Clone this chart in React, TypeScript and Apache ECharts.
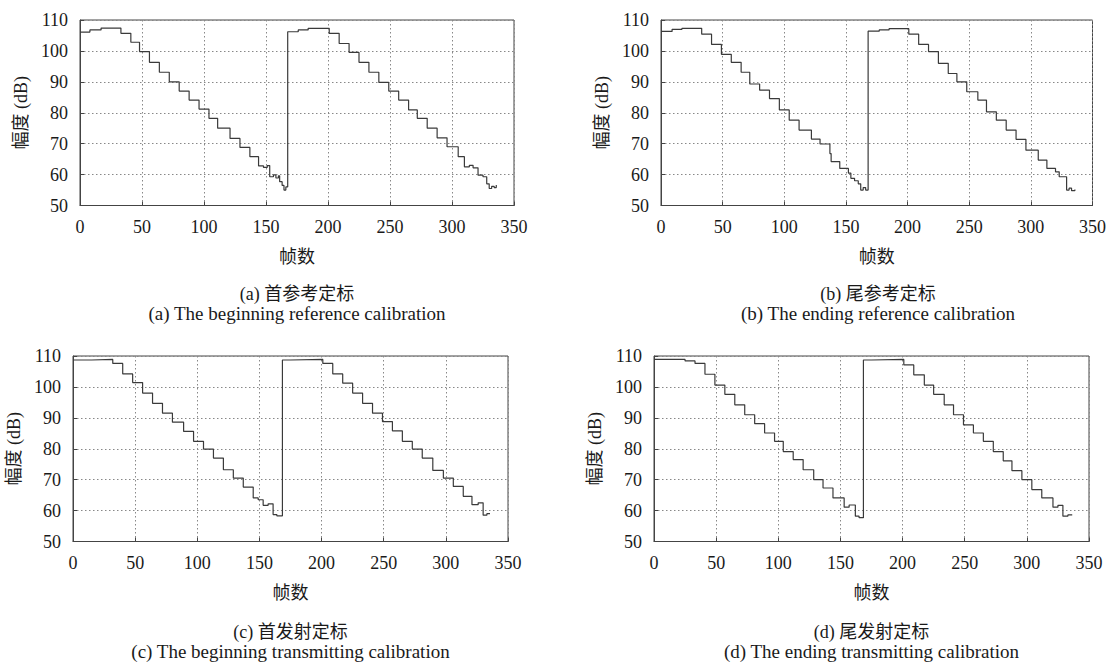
import React, { useEffect, useRef } from "react";
import * as echarts from "echarts";

// ---- Data ----
// Panel (a) 首参考定标
const framesA = [0, 8, 17, 33, 41, 48, 56, 64, 72, 80, 88, 96, 104, 111, 121, 129, 137, 144, 148, 151, 153, 156, 158, 160, 161, 163, 164.5, 166, 167.5, 176, 184, 201, 209, 217, 225, 233, 241, 249, 257, 265, 272, 280, 288, 296, 305, 310, 314, 317, 321, 325, 328, 330, 332, 334, 335.7];
const dbA = [106.1, 106.8, 107.4, 105.7, 102.8, 99.8, 96.3, 93.1, 90.0, 87.0, 84.1, 81.2, 78.2, 75.0, 71.7, 68.8, 65.8, 62.8, 62.3, 62.9, 59.3, 59.9, 58.9, 59.6, 57.7, 56.5, 55.0, 56.0, 106.2, 106.8, 107.3, 105.7, 102.4, 99.5, 96.3, 93.1, 89.8, 87.0, 84.1, 80.9, 78.2, 75.0, 71.9, 69.0, 65.8, 62.5, 63.0, 62.2, 59.8, 59.3, 57.0, 55.5, 56.2, 55.8, 56.6];

// Panel (b) 尾参考定标
const framesB = [0, 9, 17, 33, 41, 49, 57, 65, 72, 80, 88, 96, 104, 112, 122, 129, 137, 138, 145, 152, 154, 157, 160, 162, 164, 166, 168, 177, 185, 201, 209, 217, 225, 233, 240, 248, 257, 264, 272, 280, 288, 296, 306, 313, 320, 323, 329, 331, 333, 335.7];
const dbB = [106.3, 107.0, 107.3, 105.4, 102.1, 98.9, 96.3, 93.1, 89.3, 87.3, 84.6, 80.9, 77.6, 74.4, 71.5, 69.9, 66.8, 64.2, 62.0, 60.5, 58.8, 58.0, 57.0, 55.0, 55.8, 55.0, 106.4, 106.8, 107.2, 105.4, 102.1, 99.8, 96.0, 92.7, 90.0, 86.8, 84.1, 80.3, 77.6, 74.4, 71.4, 67.9, 64.7, 62.0, 60.9, 59.3, 55.0, 55.6, 54.8, 55.2];

// Panel (c) 首发射定标
const framesC = [0, 15, 32, 40, 48, 56, 64, 72, 80, 89, 97, 105, 113, 121, 129, 137, 145, 149, 153, 157, 161, 164, 168.5, 175, 201, 209, 217, 225, 233, 241, 249, 257, 265, 273, 281, 289.5, 298, 306, 314, 321, 326, 330, 333, 335.5];
const dbC = [108.7, 108.9, 107.6, 104.2, 101.4, 98.0, 94.7, 91.5, 88.6, 85.6, 82.4, 79.9, 77.0, 73.2, 70.5, 67.6, 64.1, 63.5, 61.7, 62.2, 58.7, 58.3, 108.7, 108.9, 107.6, 104.2, 101.2, 98.0, 94.7, 91.5, 88.8, 85.8, 82.4, 79.9, 77.0, 73.0, 70.5, 67.8, 64.6, 61.9, 62.5, 58.5, 59.0, 58.8];

// Panel (d) 尾发射定标
const framesD = [0, 25, 33, 41, 49, 57, 65, 73, 81, 89, 97, 104, 112, 120, 128.5, 136, 144, 153, 157, 162, 165, 168.5, 175, 201, 209, 217.5, 225, 233.5, 241, 249, 257, 265, 273, 281, 288, 296, 304, 312, 321, 325, 329, 333, 336.5];
const dbD = [108.9, 108.4, 107.6, 104.1, 100.6, 97.6, 94.2, 91.0, 88.1, 85.1, 82.4, 79.1, 76.5, 73.2, 70.0, 67.3, 64.1, 61.1, 61.8, 58.2, 57.7, 108.7, 108.9, 107.1, 103.9, 100.6, 97.6, 94.2, 91.0, 87.7, 85.1, 82.4, 79.1, 76.1, 72.9, 70.0, 66.8, 64.1, 61.1, 61.7, 58.2, 58.6, 58.4];

const xTicks = [0, 50, 100, 150, 200, 250, 300, 350];
const yTicks = [50, 60, 70, 80, 90, 100, 110];

const captionsZh = ["(a) 首参考定标", "(b) 尾参考定标", "(c) 首发射定标", "(d) 尾发射定标"];
const captionsEn = [
  "(a) The beginning reference calibration",
  "(b) The ending reference calibration",
  "(c) The beginning transmitting calibration",
  "(d) The ending transmitting calibration",
];
const xName = "帧数";
const yName = "幅度 (dB)";

const FONT = "'Liberation Serif', 'DejaVu Serif', 'Noto Sans CJK SC', serif";
const LINE = "#3a3a3a";

const grids = [
  { left: 80, top: 20, width: 434, height: 185.5 },
  { left: 661, top: 20, width: 434, height: 185.5 },
  { left: 73, top: 356, width: 435, height: 185.5 },
  { left: 654, top: 356, width: 435, height: 185.5 },
];
const captionY = [
  [294, 313],
  [294, 313],
  [632, 651],
];

export default function App() {
  const ref = useRef<HTMLDivElement>(null);
  useEffect(() => {
    if (!ref.current) return;
    const chart = echarts.init(ref.current, undefined, { renderer: "svg" });
    const allData = [
      [framesA, dbA],
      [framesB, dbB],
      [framesC, dbC],
      [framesD, dbD],
    ];
    const gridOpts = grids.map((g) => ({
      ...g,
      show: true,
      borderColor: "#444",
      borderWidth: 1,
      containLabel: false,
    }));
    const xAxes = grids.map((_, i) => ({
      type: "value",
      gridIndex: i,
      min: xTicks[0],
      max: xTicks[xTicks.length - 1],
      interval: 50,
      name: xName,
      nameLocation: "middle",
      nameGap: 42,
      nameTextStyle: { fontFamily: FONT, fontSize: 18, color: "#1a1a1a" },
      axisLine: { show: true, lineStyle: { color: "#444", width: 1 } },
      axisTick: { show: true, inside: true, length: 4, lineStyle: { color: "#444" } },
      axisLabel: { fontFamily: FONT, fontSize: 18, color: "#1a1a1a", margin: 12 },
      splitLine: { show: true, lineStyle: { color: "#888", type: [1.5, 2.5], width: 1 } },
    }));
    const yAxes = grids.map((_, i) => ({
      type: "value",
      gridIndex: i,
      min: yTicks[0],
      max: yTicks[yTicks.length - 1],
      interval: 10,
      name: yName,
      nameLocation: "middle",
      nameGap: 50,
      nameTextStyle: { fontFamily: FONT, fontSize: 18, color: "#1a1a1a" },
      axisLine: { show: true, lineStyle: { color: "#444", width: 1 } },
      axisTick: { show: true, inside: true, length: 4, lineStyle: { color: "#444" } },
      axisLabel: { fontFamily: FONT, fontSize: 18, color: "#1a1a1a", margin: 12 },
      splitLine: { show: true, lineStyle: { color: "#888", type: [1.5, 2.5], width: 1 } },
    }));
    const series = allData.map(([fr, db], i) => ({
      type: "line",
      xAxisIndex: i,
      yAxisIndex: i,
      step: "end",
      showSymbol: false,
      symbol: "none",
      lineStyle: { color: LINE, width: 1.2 },
      data: fr.map((f, k) => [f, db[k]]),
    }));
    const graphics: any[] = [];
    grids.forEach((g, i) => {
      const cx = g.left + g.width / 2;
      const row = i < 2 ? 0 : 2;
      graphics.push({
        type: "text",
        x: cx,
        y: captionY[row][0],
        style: {
          text: captionsZh[i],
          font: `18px ${FONT}`,
          fill: "#1a1a1a",
          align: "center",
          verticalAlign: "middle",
        },
      });
      graphics.push({
        type: "text",
        x: cx,
        y: captionY[row][1],
        style: {
          text: captionsEn[i],
          font: `19px ${FONT}`,
          fill: "#1a1a1a",
          align: "center",
          verticalAlign: "middle",
        },
      });
    });
    chart.setOption({
      animation: false,
      backgroundColor: "#fff",
      grid: gridOpts,
      xAxis: xAxes,
      yAxis: yAxes,
      series,
      graphic: graphics,
    });
    return () => chart.dispose();
  }, []);
  return (
    <div
      ref={ref}
      style={{ position: "fixed", left: 0, top: 0, width: 1109, height: 664, background: "#fff" }}
    />
  );
}
